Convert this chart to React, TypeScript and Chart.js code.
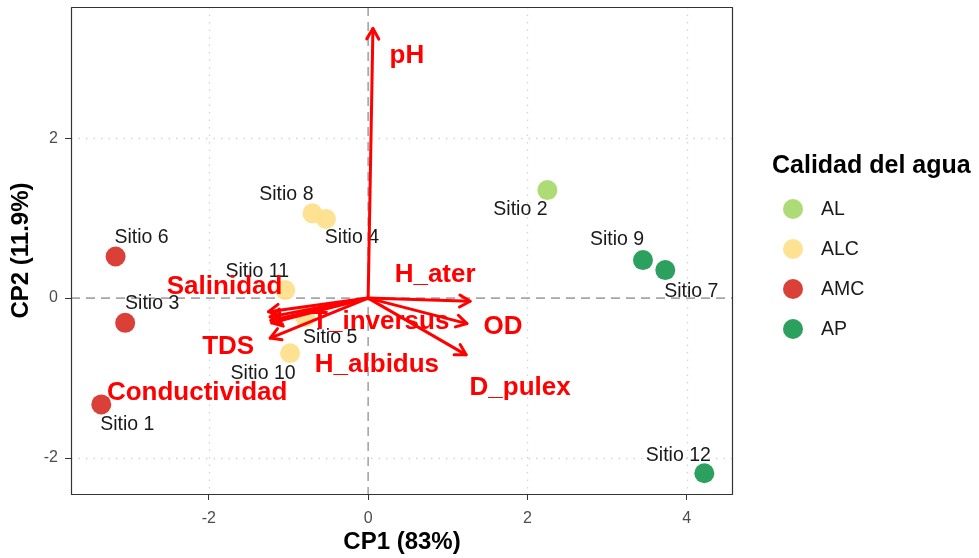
import React, { useEffect, useRef } from 'react';
import { Chart, registerables } from 'chart.js';

Chart.register(...registerables);

// ---------- data ----------
const sites = ['Sitio 1', 'Sitio 2', 'Sitio 3', 'Sitio 4', 'Sitio 5', 'Sitio 6', 'Sitio 7', 'Sitio 8', 'Sitio 9', 'Sitio 10', 'Sitio 11', 'Sitio 12'];
const siteCP1 = [-3.35, 2.25, -3.05, -0.53, -0.79, -3.17, 3.73, -0.70, 3.45, -0.98, -1.04, 4.22];
const siteCP2 = [-1.33, 1.35, -0.31, 0.99, -0.24, 0.52, 0.35, 1.06, 0.475, -0.69, 0.10, -2.19];
const siteGroup = ['AMC', 'AL', 'AMC', 'ALC', 'ALC', 'AMC', 'AP', 'ALC', 'AP', 'ALC', 'ALC', 'AP'];

const groups = ['AL', 'ALC', 'AMC', 'AP'];

const variables = ['pH', 'H_ater', 'OD', 'D_pulex', 'Salinidad', 'Conductividad', 'T_inversus', 'H_albidus', 'TDS'];
const loadCP1 = [0.06, 1.28, 1.24, 1.23, -1.25, -1.23, -1.21, -1.22, -1.23];
const loadCP2 = [3.37, -0.04, -0.32, -0.71, -0.17, -0.235, -0.31, -0.28, -0.50];

const xTicks = [-2, 0, 2, 4];
const yTicks = [-2, 0, 2];

const xTitle = 'CP1 (83%)';
const yTitle = 'CP2 (11.9%)';
const legendTitle = 'Calidad del agua';

// ---------- styling / layout ----------
const groupColors = ['rgba(166,217,106,0.92)', 'rgba(254,224,139,0.92)', 'rgba(215,48,39,0.92)', 'rgba(26,152,80,0.92)'];
// label offsets in pixels (dx, dy) relative to the point
const siteLabelOffset: [number, number][] = [
  [26, 20], [-27, 20], [27, -19], [26, 19], [25, 20], [26, -19],
  [26, 22], [-26, -19], [-26, -20], [-27, 20], [-28, -18], [-26, -18],
];
// label offsets in pixels relative to arrow tips
const varLabelOffset: [number, number][] = [
  [34, 27], [-35, -26], [36, 3], [54, 33], [-44, -25], [-73, 76], [109, -1], [106, 44], [-42, 9],
];

const FONT = '"Liberation Sans", Arial, Helvetica, sans-serif';

const X_MIN = -3.73, X_MAX = 4.58, Y_MIN = -2.45, Y_MAX = 3.64;

const overlay = {
  id: 'overlay',
  beforeDatasetsDraw(chart: any) {
    const { ctx, chartArea: a, scales } = chart;
    const xs = scales.x, ys = scales.y;
    ctx.save();
    ctx.beginPath();
    ctx.rect(a.left, a.top, a.right - a.left, a.bottom - a.top);
    ctx.clip();
    // dotted grid
    ctx.strokeStyle = '#d4d4d4';
    ctx.lineWidth = 1.3;
    ctx.setLineDash([1.5, 6]);
    xTicks.forEach((v) => {
      if (v === 0) return;
      const px = Math.round(xs.getPixelForValue(v)) + 0.5;
      ctx.beginPath(); ctx.moveTo(px, a.top); ctx.lineTo(px, a.bottom); ctx.stroke();
    });
    yTicks.forEach((v) => {
      if (v === 0) return;
      const py = Math.round(ys.getPixelForValue(v)) + 0.5;
      ctx.beginPath(); ctx.moveTo(a.left, py); ctx.lineTo(a.right, py); ctx.stroke();
    });
    // dashed zero lines
    ctx.strokeStyle = '#a6a6a6';
    ctx.lineWidth = 1.6;
    ctx.setLineDash([9, 6]);
    const x0 = xs.getPixelForValue(0), y0 = ys.getPixelForValue(0);
    ctx.beginPath(); ctx.moveTo(x0, a.top); ctx.lineTo(x0, a.bottom); ctx.stroke();
    ctx.beginPath(); ctx.moveTo(a.left, y0); ctx.lineTo(a.right, y0); ctx.stroke();
    ctx.restore();
  },
  afterDatasetsDraw(chart: any) {
    const { ctx, chartArea: a, scales } = chart;
    const xs = scales.x, ys = scales.y;
    ctx.save();
    // site labels
    ctx.fillStyle = '#1a1a1a';
    ctx.font = `19.5px ${FONT}`;
    ctx.textAlign = 'center';
    ctx.textBaseline = 'middle';
    sites.forEach((s, i) => {
      const px = xs.getPixelForValue(siteCP1[i]);
      const py = ys.getPixelForValue(siteCP2[i]);
      ctx.fillText(s, px + siteLabelOffset[i][0], py + siteLabelOffset[i][1]);
    });
    // arrows
    const ox = xs.getPixelForValue(0), oy = ys.getPixelForValue(0);
    ctx.strokeStyle = '#ff0000';
    ctx.lineWidth = 3;
    ctx.lineCap = 'round';
    ctx.lineJoin = 'round';
    variables.forEach((v, i) => {
      const tx = xs.getPixelForValue(loadCP1[i]);
      const ty = ys.getPixelForValue(loadCP2[i]);
      ctx.beginPath(); ctx.moveTo(ox, oy); ctx.lineTo(tx, ty); ctx.stroke();
      const ang = Math.atan2(ty - oy, tx - ox);
      const L = 12, w = Math.PI / 6;
      ctx.beginPath();
      ctx.moveTo(tx - L * Math.cos(ang - w), ty - L * Math.sin(ang - w));
      ctx.lineTo(tx, ty);
      ctx.lineTo(tx - L * Math.cos(ang + w), ty - L * Math.sin(ang + w));
      ctx.stroke();
    });
    // variable labels
    ctx.fillStyle = '#ff0000';
    ctx.font = `bold 26px ${FONT}`;
    variables.forEach((v, i) => {
      const tx = xs.getPixelForValue(loadCP1[i]);
      const ty = ys.getPixelForValue(loadCP2[i]);
      ctx.fillText(v, tx + varLabelOffset[i][0], ty + varLabelOffset[i][1]);
    });
    // panel border
    ctx.strokeStyle = '#333333';
    ctx.lineWidth = 1.2;
    ctx.strokeRect(Math.round(a.left) + 0.5, Math.round(a.top) + 0.5, Math.round(a.right - a.left) - 1, Math.round(a.bottom - a.top));
    // axis titles
    ctx.fillStyle = '#000000';
    ctx.font = `bold 24px ${FONT}`;
    ctx.textAlign = 'center';
    ctx.textBaseline = 'middle';
    ctx.fillText(xTitle, (a.left + a.right) / 2, 542);
    ctx.save();
    ctx.translate(21, (a.top + a.bottom) / 2);
    ctx.rotate(-Math.PI / 2);
    ctx.fillText(yTitle, 0, 0);
    ctx.restore();
    // legend
    ctx.textAlign = 'left';
    ctx.font = `bold 25px ${FONT}`;
    ctx.fillText(legendTitle, 772, 166);
    ctx.font = `19.5px ${FONT}`;
    groups.forEach((g, i) => {
      const cy = 209 + i * 40;
      ctx.fillStyle = groupColors[i];
      ctx.beginPath(); ctx.arc(793, cy, 10, 0, Math.PI * 2); ctx.fill();
      ctx.fillStyle = '#1a1a1a';
      ctx.fillText(g, 821, cy + 1);
    });
    ctx.restore();
  },
};

export default function App() {
  const ref = useRef<HTMLCanvasElement>(null);
  useEffect(() => {
    if (!ref.current) return;
    const datasets = groups.map((g, gi) => ({
      label: g,
      data: sites
        .map((_, i) => ({ x: siteCP1[i], y: siteCP2[i], g: siteGroup[i] }))
        .filter((p) => p.g === g)
        .map((p) => ({ x: p.x, y: p.y })),
      backgroundColor: groupColors[gi],
      borderWidth: 0,
      pointRadius: 10,
      pointHoverRadius: 10,
    }));
    const chart = new Chart(ref.current, {
      type: 'scatter',
      data: { datasets },
      plugins: [overlay],
      options: {
        animation: false,
        responsive: false,
        devicePixelRatio: 1,
        layout: { autoPadding: false, padding: { left: 0, right: 246, top: 7, bottom: 0 } },
        plugins: { legend: { display: false }, tooltip: { enabled: false } },
        scales: {
          x: {
            type: 'linear',
            min: X_MIN,
            max: X_MAX,
            afterBuildTicks: (s: any) => { s.ticks = xTicks.map((v) => ({ value: v })); },
            afterFit: (s: any) => { s.height = 64; s.paddingLeft = 0; s.paddingRight = 0; },
            grid: { drawOnChartArea: false, drawTicks: true, tickLength: 6, color: '#333333', lineWidth: 1 },
            border: { display: false },
            ticks: { color: '#4d4d4d', font: { size: 16, family: FONT }, padding: 9, maxRotation: 0 },
          },
          y: {
            type: 'linear',
            min: Y_MIN,
            max: Y_MAX,
            afterBuildTicks: (s: any) => { s.ticks = yTicks.map((v) => ({ value: v })); },
            afterFit: (s: any) => { s.width = 71; s.paddingTop = 0; s.paddingBottom = 0; },
            grid: { drawOnChartArea: false, drawTicks: true, tickLength: 6, color: '#333333', lineWidth: 1 },
            border: { display: false },
            ticks: { color: '#4d4d4d', font: { size: 16, family: FONT }, padding: 7 },
          },
        },
      } as any,
    });
    return () => chart.destroy();
  }, []);
  return (
    <div style={{ position: 'absolute', left: 0, top: 0, width: 979, height: 558, background: '#fff' }}>
      <canvas ref={ref} width={979} height={558} />
    </div>
  );
}
